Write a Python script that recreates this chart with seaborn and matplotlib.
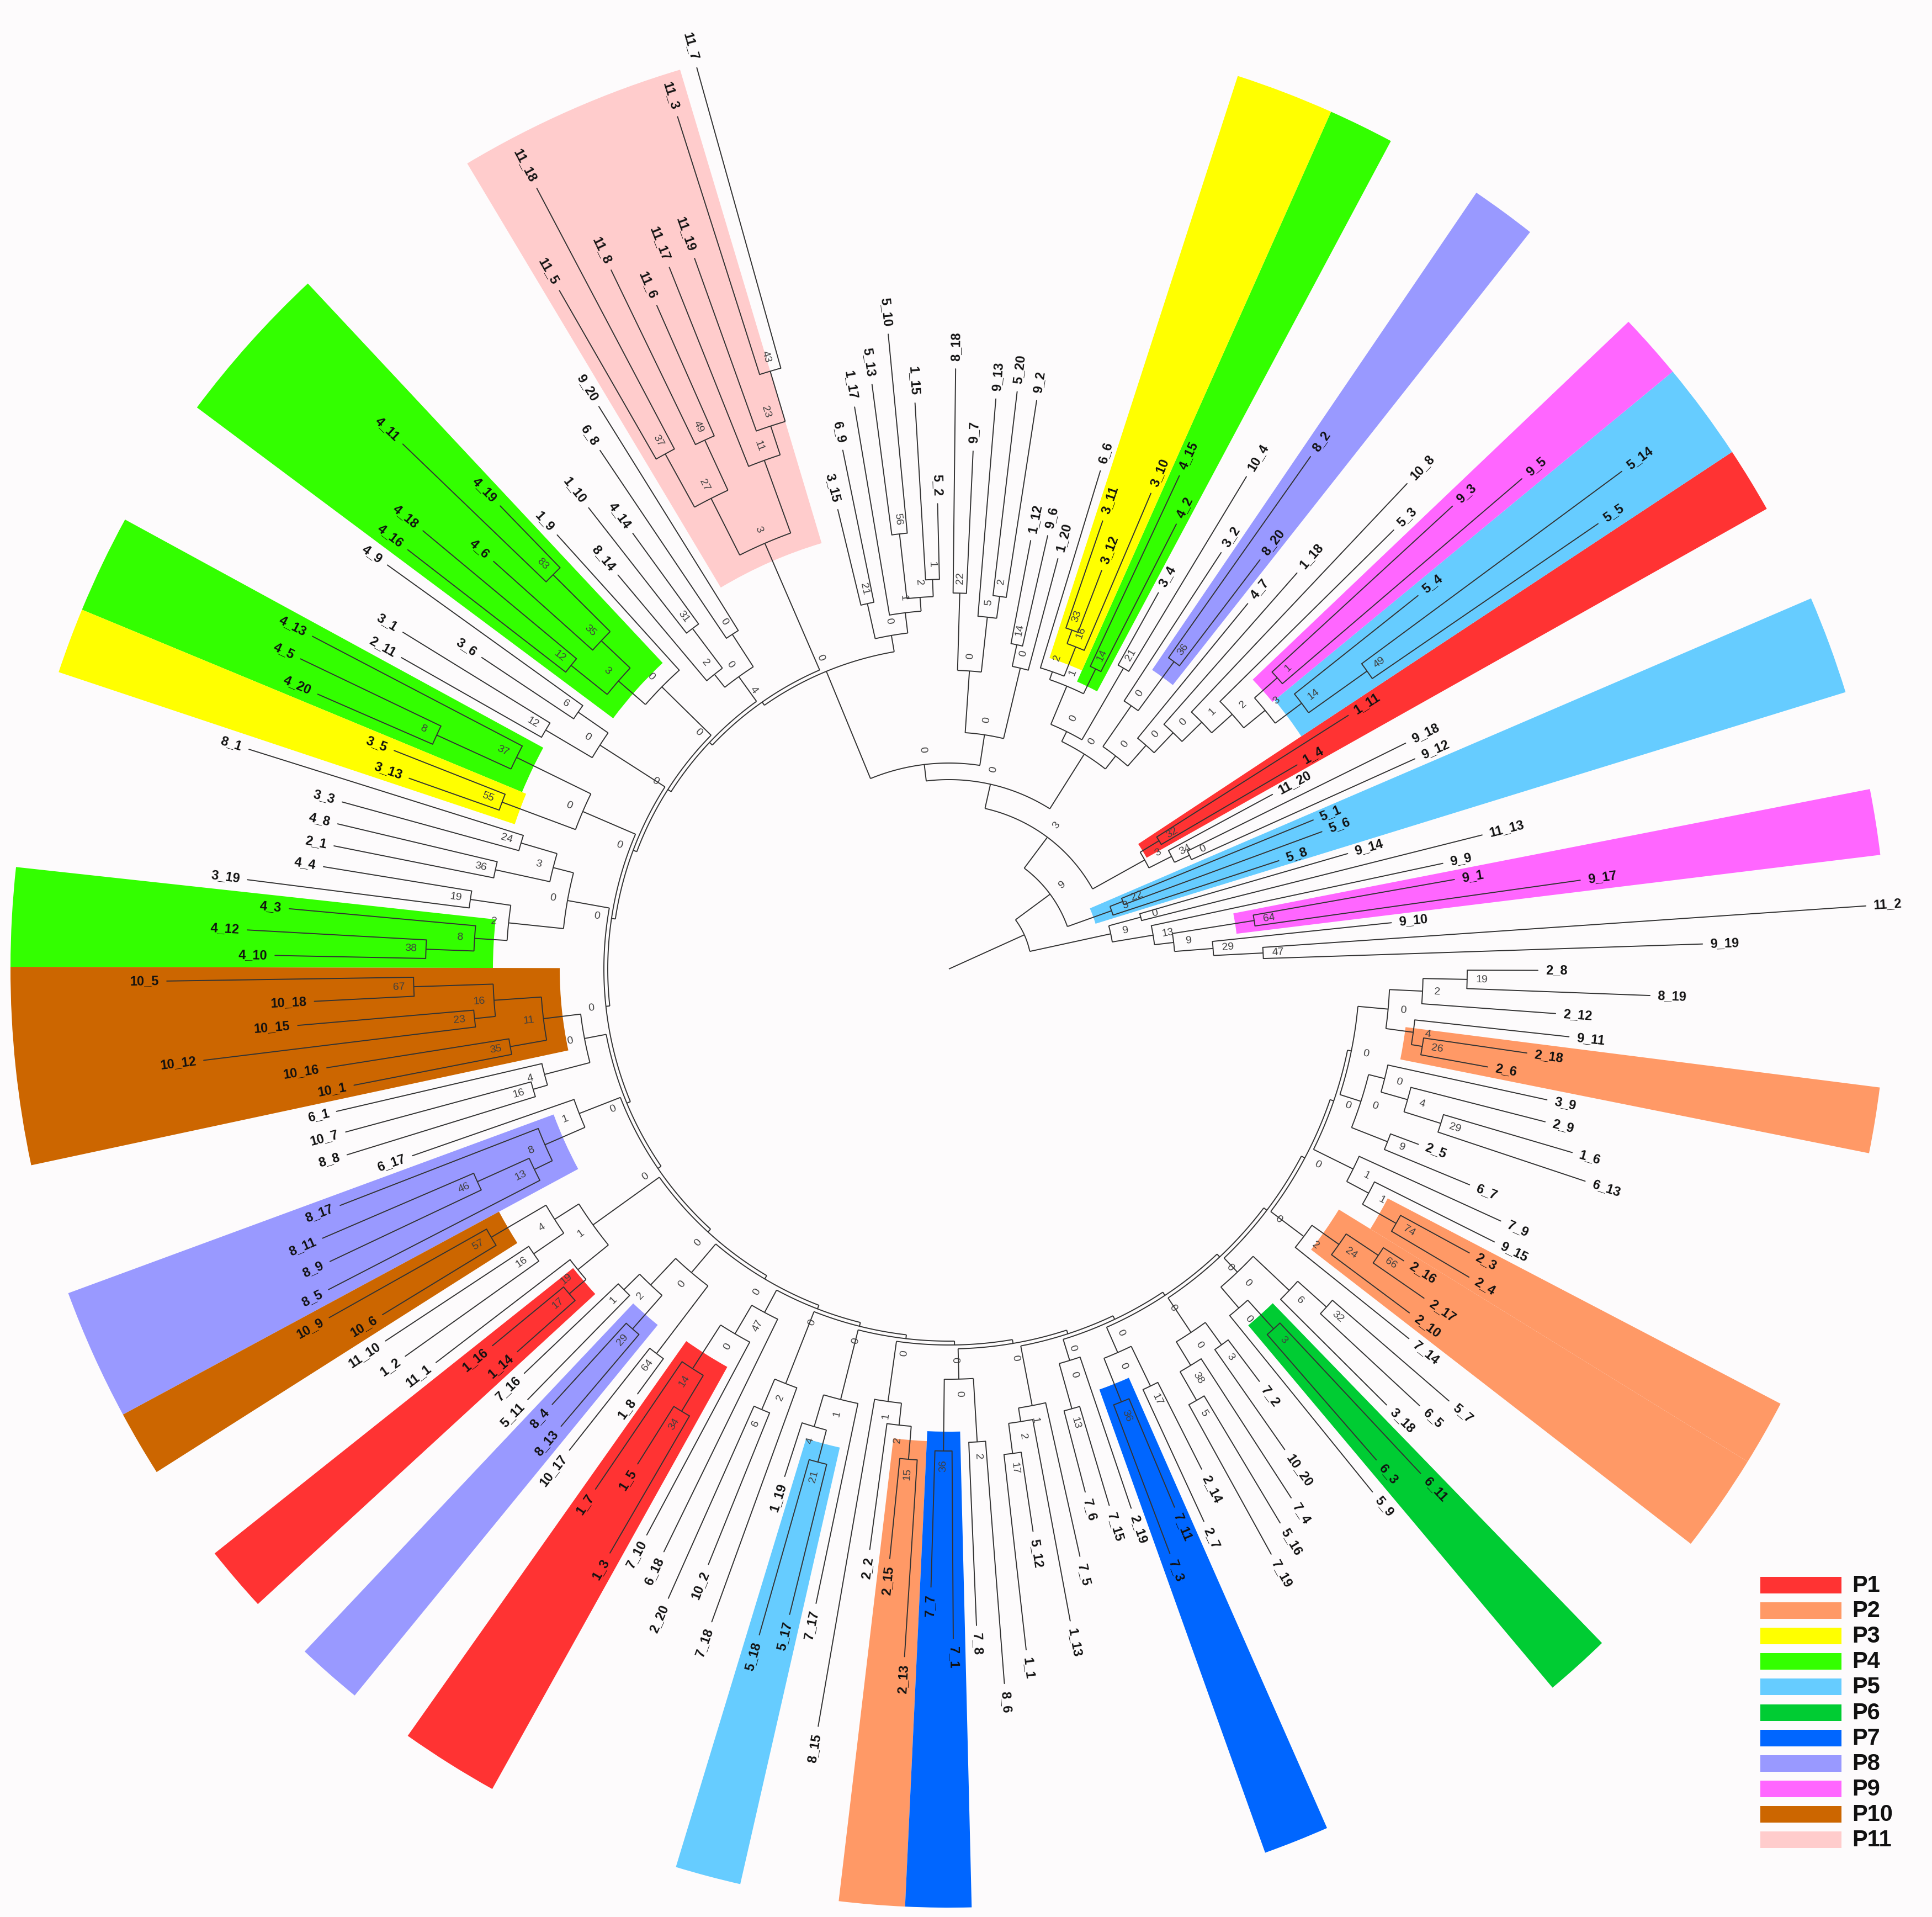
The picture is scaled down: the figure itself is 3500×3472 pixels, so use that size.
import re
import numpy as np
import pandas as pd
import matplotlib
matplotlib.use("Agg")
import matplotlib.pyplot as plt
from matplotlib.collections import LineCollection
from matplotlib.patches import Rectangle
import seaborn as sns

# ---------------------------------------------------------------- data
# leaves in counter-clockwise order, starting just above the 3 o'clock line
leaf_names = [
    "9_19", "11_2", "9_10", "9_17", "9_1", "9_9", "11_13", "9_14", "5_8", "5_6", "5_1", "9_12", "9_18", "11_20", "1_4", "1_11",
    "5_5", "5_14", "5_4", "9_5", "9_3", "5_3", "10_8", "1_18", "4_7", "8_20", "8_2", "3_2", "10_4", "3_4", "4_2", "4_15",
    "3_10", "3_12", "3_11", "6_6",
    "1_20", "9_6", "1_12", "9_2", "5_20", "9_13", "9_7", "8_18", "5_2", "1_15", "5_10", "5_13", "1_17", "6_9", "3_15",
    "11_7", "11_3", "11_19", "11_17", "11_6", "11_8", "11_18", "11_5",
    "9_20", "6_8", "4_14", "1_10", "8_14",
    "1_9", "4_19", "4_11", "4_6", "4_18", "4_16",
    "4_9", "3_6", "3_1", "2_11",
    "4_13", "4_5", "4_20", "3_5", "3_13",
    "8_1", "3_3", "4_8", "2_1", "4_4", "3_19", "4_3", "4_12", "4_10",
    "10_5", "10_18", "10_15", "10_12", "10_16", "10_1", "6_1", "10_7", "8_8",
    "6_17", "8_17", "8_11", "8_9", "8_5",
    "10_9", "10_6", "11_10", "1_2", "11_1", "1_16", "1_14",
    "7_16", "5_11", "8_4", "8_13", "10_17", "1_8",
    "1_7", "1_5", "1_3", "7_10", "6_18",
    "2_20", "10_2", "7_18",
    "1_19", "5_18", "5_17", "7_17",
    "8_15", "2_2", "2_15", "2_13",
    "7_7", "7_1", "7_8", "8_6",
    "1_1", "5_12", "1_13", "7_5",
    "7_6", "7_15", "2_19",
    "7_3", "7_11", "2_7", "2_14",
    "7_19", "5_16", "7_4", "10_20", "7_2",
    "5_9", "6_3", "6_11", "3_18", "6_5", "5_7",
    "7_14", "2_10", "2_17", "2_16",
    "2_4", "2_3", "9_15", "7_9",
    "6_7", "2_5", "6_13", "1_6", "2_9", "3_9",
    "2_6", "2_18", "9_11", "2_12", "8_19", "2_8"]

# distance of each leaf tip from the centre (same order as leaf_names)
tip_r = [
    1366, 1665, 806, 1155, 930, 915, 996, 752, 629, 720, 713, 926, 923, 666, 731, 857,
    1426, 1516, 1086, 1366, 1239, 1132, 1209, 955, 855, 931, 1136, 901, 1042, 780, 905, 986, 936, 773, 858, 943,
    769, 805, 790, 1042, 1053, 1036, 939, 1087, 843, 1027, 1155, 1068, 1032, 959, 856,
    1695, 1620, 1367, 1368, 1313, 1406, 1599, 1417,
    1200, 1132, 975, 1060, 932,
    1059, 1168, 1372, 1107, 1240, 1240,
    1253, 1017, 1162, 1141,
    1301, 1302, 1247, 1080, 1037,
    1329, 1140, 1138, 1136, 1148, 1281, 1200, 1273, 1221,
    1417, 1151, 1184, 1360, 1141, 1098, 1139, 1132, 1141,
    1029, 1183, 1235, 1240, 1265,
    1288, 1202, 1223, 1209, 1171, 1072, 1045,
    1062, 1091, 1067, 1086, 1110, 954,
    1139, 1059, 1223, 1162, 1175,
    1248, 1163, 1258,
    966, 1254, 1204, 1174,
    1392, 1061, 1073, 1248,
    1120, 1213, 1190, 1298,
    1241, 1030, 1201, 1090,
    979, 1014, 1031,
    1132, 1057, 1102, 1015,
    1210, 1169, 1141, 1062, 935,
    1219, 1179, 1251, 1119, 1163, 1197,
    1069, 1041, 1047, 979,
    1095, 1074, 1105, 1099,
    1021, 908, 1215, 1177, 1115, 1109,
    992, 1058, 1130, 1102, 1271, 1067]

pop_names = ["P1", "P2", "P3", "P4", "P5", "P6", "P7", "P8", "P9", "P10", "P11"]
pop_colors = ["#ff3333", "#ff9966", "#ffff00", "#33ff00", "#66ccff", "#00cc33",
              "#0066ff", "#9999ff", "#ff66ff", "#cc6600", "#ffcccc"]

# highlighted clades: first leaf, last leaf, population
hl_first = ["9_17", "5_8", "1_4", "5_5", "9_5", "8_20", "4_2", "3_10", "11_3", "4_19", "4_13", "3_5", "4_3",
            "10_5", "8_17", "10_9", "1_16", "8_4", "1_7", "5_18", "2_15", "7_7", "7_3", "6_3", "2_10", "2_4", "2_6"]
hl_last = ["9_1", "5_1", "1_11", "5_4", "9_3", "8_2", "4_15", "3_11", "11_5", "4_16", "4_20", "3_13", "4_10",
           "10_1", "8_5", "10_6", "1_14", "8_13", "1_3", "5_17", "2_13", "7_1", "7_11", "6_11", "2_16", "2_3", "2_18"]
hl_pop = ["P9", "P5", "P1", "P5", "P9", "P8", "P4", "P3", "P11", "P4", "P4", "P3", "P4",
          "P10", "P8", "P10", "P1", "P8", "P1", "P5", "P2", "P7", "P7", "P6", "P2", "P2", "P2"]

# tree topology (Newick pieces, node label = bootstrap, :length = branch length)
L_A = "(9_19,11_2)47:90"
L_B = f"({L_A},9_10)29:70"
L_C = f"({L_B},(9_17,9_1)64:150)9:35"
L_D = f"({L_C},9_9)13:75"
LOWER = f"({L_D},(11_13,9_14)0:60)9:150"
P5a = "(5_8,(5_6,5_1)22:25)3:85"
X = "(((9_12,9_18)0:30,11_20)34:46,(1_4,1_11)32:40)3:108"
CY = "((5_5,5_14)49:130,5_4)14:60"
PK = "(9_5,9_3)1:55"
L8 = "((8_20,8_2)36:110,3_2)0:90"
Y3 = "((4_2,4_15)14:50,((3_10,(3_12,3_11)33:26)16:57,6_6)2:15)1:75"
T1 = "(1_20,(9_6,1_12)14:40)0:131"
T2 = "(((9_2,5_20)2:40,9_13)5:100,(9_7,8_18)22:140)0:112"

backbone_clades = [
    "((((5_2,1_15)1:31,(5_10,5_13)56:118)2:25,1_17)1:37,(6_9,3_15)21:65)0:30",
    "((((11_7,11_3)43:95,11_19)23:55,11_17)11:140,((11_6,11_8)49:100,(11_18,11_5)37:110)27:115)3:250",
    "((9_20,6_8)0:70,((4_14,1_10)31:90,8_14)2:30)0:55",
    "(1_9,(((4_19,4_11)83:146,4_6)35:72,(4_18,4_16)12:84)3:65)0:125",
    "((4_9,3_6)6:66,(3_1,2_11)12:98)0:140",
    "((4_13,(4_5,4_20)8:148)37:150,(3_5,3_13)55:142)0:104",
    "(((8_1,3_3)24:68,(4_8,2_1)36:101)3:38,((4_4,3_19)19:74,(4_3,(4_12,4_10)38:87)8:59)2:100)0:77",
    "((((10_5,10_18)67:144,(10_15,10_12)23:38)16:86,(10_16,10_1)35:67)11:68,(6_1,(10_7,8_8)16:27)4:85)0:40",
    "(6_17,(8_17,((8_11,8_9)46:103,8_5)13:36)8:79)1:80",
    "(((10_9,10_6)57:115,(11_10,1_2)16:66)4:52,(11_1,(1_16,1_14)17:40)19:71)1:148",
    "(((7_16,5_11)1:40,(8_4,8_13)29:81)2:66,(10_17,1_8)64:154)0:68",
    "(((1_7,(1_5,1_3)34:76)14:94,7_10)0:60,6_18)47:46",
    "((2_20,10_2)6:60,7_18)2:140",
    "((1_19,(5_18,5_17)21:60)4:60,7_17)1:130",
    "(8_15,(2_2,(2_15,2_13)15:60)2:40)1:110",
    "((7_7,7_1)36:130,(7_8,8_6)2:115)0:55",
    "(((1_1,5_12)17:55,1_13)2:25,7_5)1:110",
    "((7_6,7_15)13:85,2_19)0:40",
    "((7_3,7_11)36:85,(2_7,2_14)17:80)0:50",
    "(((7_19,5_16)5:60,7_4)38:50,(10_20,7_2)3:50)0:75",
    "((5_9,(6_3,6_11)3:70)0:50,(3_18,(6_5,5_7)32:70)6:90)0:35",
    "(7_14,(2_10,(2_17,2_16)66:70)24:60)2:75",
    "(((2_4,2_3)74:70,9_15)1:45,7_9)1:80",
    "((6_7,2_5)9:70,(((6_13,1_6)29:70,2_9)4:50,3_9)0:30)0:40",
    "(((2_6,2_18)26:20,9_11)4:50,(2_12,(8_19,2_8)19:80)2:60)0:55",
]
backbone_support = [0, 4, 0, 0, 0, 0, 0, 0, 0, 0, 0, 0, 0, 0, 0, 0, 0, 0, 0, 0, 0, 0, 0, 0]
BACKBONE_STEP = 7
Q2_LEN = 210

# ---------------------------------------------------------------- build tree string
cat = f"({backbone_clades[-2]},{backbone_clades[-1]}){backbone_support[-1]}:{BACKBONE_STEP}"
for i in range(len(backbone_clades) - 3, -1, -1):
    ln = BACKBONE_STEP if i > 0 else Q2_LEN
    cat = f"({backbone_clades[i]},{cat}){backbone_support[i]}:{ln}"
Q2 = cat
A1 = f"({CY},{PK})3:50"
A2 = f"({A1},5_3)2:50"
A3 = f"({A2},10_8)1:50"
A4 = f"({A3},1_18)0:50"
A5 = f"({A4},4_7)0:50"
A6 = f"({A5},{L8})0:30"
A7 = f"((10_4,3_4)21:150,{Y3})0:20"
TR = f"({A6},{A7})0:117"
Q1 = f"({T1},{T2})0:56"
BIG = f"({Q1},{Q2})0:30"
Y = f"({TR},{BIG})0:45"
N3 = f"({X},{Y})3:70"
UPPER = f"({P5a},{N3})9:78"
TREE = f"({LOWER},{UPPER})R:150"

DEFAULT_LEN = 45.0


def parse_newick(s):
    pos = 0

    def node():
        nonlocal pos
        if s[pos] == "(":
            pos += 1
            kids = [node()]
            while s[pos] == ",":
                pos += 1
                kids.append(node())
            pos += 1
            m = re.match(r"([^:,();]*)(?::([0-9.]+))?", s[pos:])
            pos += m.end()
            ln = float(m.group(2)) if m.group(2) else DEFAULT_LEN
            return {"kids": kids, "sup": m.group(1), "len": ln}
        m = re.match(r"([^:,();]+)", s[pos:])
        pos += m.end()
        return {"name": m.group(1)}

    return node()


tree = parse_newick(TREE)

N = len(leaf_names)
STEP = 2 * np.pi / N
THETA0 = 1.9
idx_of = {n: i for i, n in enumerate(leaf_names)}
tip_of = dict(zip(leaf_names, tip_r))

order = []


def layout(nd, parent_r):
    if "name" in nd:
        i = idx_of[nd["name"]]
        order.append(nd["name"])
        nd["lo"] = nd["hi"] = i
        nd["theta"] = i * STEP
        nd["r"] = float(tip_of[nd["name"]])
        nd["pr"] = parent_r
        return
    nd["r"] = parent_r + nd["len"]
    for k in nd["kids"]:
        layout(k, nd["r"])
    nd["theta"] = 0.5 * (nd["kids"][0]["theta"] + nd["kids"][-1]["theta"])
    nd["lo"] = min(k["lo"] for k in nd["kids"])
    nd["hi"] = max(k["hi"] for k in nd["kids"])


layout(tree, 0.0)
if order != leaf_names:
    print("order mismatch", [(a, b) for a, b in zip(order, leaf_names) if a != b][:5])

internal = []


def walk(nd):
    if "kids" in nd:
        internal.append(nd)
        for k in nd["kids"]:
            walk(k)


walk(tree)

# ---------------------------------------------------------------- figure
sns.set_theme(style="white")
plt.rcParams["font.family"] = ["Liberation Sans", "DejaVu Sans"]
BG = "#fdfbfc"
W, H = 3500, 3472
fig = plt.figure(figsize=(W / 100, H / 100), dpi=100, facecolor=BG)
CX, CY_ = 1719, 1755
RMAX = 1800
ax = fig.add_axes([(CX - RMAX) / W, (H - CY_ - RMAX) / H, 2 * RMAX / W, 2 * RMAX / H], projection="polar")
ax.set_theta_offset(np.deg2rad(THETA0))
ax.set_facecolor(BG)

R_OUT = 1700
col_of = dict(zip(pop_names, pop_colors))


def mrca(a, b):
    best = None
    for nd in internal:
        if nd["lo"] <= a and nd["hi"] >= b:
            if best is None or (nd["hi"] - nd["lo"]) < (best["hi"] - best["lo"]):
                best = nd
    return best


for f, l, p in zip(hl_first, hl_last, hl_pop):
    a, b = idx_of[f], idx_of[l]
    nd = mrca(a, b)
    inner = nd["r"] - 35
    t0 = (a - 0.5) * STEP
    t1 = (b + 0.5) * STEP
    ax.bar(0.5 * (t0 + t1), R_OUT - inner, width=t1 - t0, bottom=inner,
           color=col_of[p], edgecolor="none", align="center", zorder=1)

# internal branches
segs = []
for nd in internal:
    t0, t1 = nd["kids"][0]["theta"], nd["kids"][-1]["theta"]
    n = max(2, int(abs(t1 - t0) / np.deg2rad(0.4)) + 2)
    ts = np.linspace(t0, t1, n)
    segs.append(np.column_stack([ts, np.full(n, nd["r"])]))
    for k in nd["kids"]:
        if "kids" in k:
            segs.append(np.array([[k["theta"], nd["r"]], [k["theta"], k["r"]]]))
segs.append(np.array([[tree["theta"], 0.0], [tree["theta"], tree["r"]]]))
lc = LineCollection(segs, colors="#333333", linewidths=1.4, transform=ax.transData, zorder=3)
ax.add_collection(lc)

# terminal branches through seaborn
leaves = []


def collect_leaves(nd):
    if "name" in nd:
        leaves.append(nd)
    else:
        for k in nd["kids"]:
            collect_leaves(k)


collect_leaves(tree)
rows = []
for lf in leaves:
    rows.append({"leaf": lf["name"], "theta": lf["theta"], "r": lf["pr"], "o": 0})
    rows.append({"leaf": lf["name"], "theta": lf["theta"], "r": lf["r"], "o": 1})
term = pd.DataFrame(rows)
sns.lineplot(data=term, x="theta", y="r", units="leaf", estimator=None, sort=False,
             color="#333333", linewidth=1.4, ax=ax, legend=False, zorder=3)


def radial_rot(theta):
    deg = (np.rad2deg(theta) + THETA0) % 360
    if 90 < deg < 270:
        return deg - 180, "right"
    return deg, "left"


for lf in leaves:
    rot, ha = radial_rot(lf["theta"])
    ax.text(lf["theta"], lf["r"] + 14, lf["name"], rotation=rot, rotation_mode="anchor",
            ha=ha, va="center", fontsize=17, fontweight="bold", color="#111111", zorder=5)

for nd in internal:
    if nd is tree:
        continue
    rot, _ = radial_rot(nd["theta"])
    ax.text(nd["theta"], nd["r"] + 27, nd["sup"], rotation=rot, rotation_mode="anchor",
            ha="center", va="center", fontsize=14, color="#404040", zorder=5)

ax.set_xlim(0, 2 * np.pi)
ax.set_ylim(0, RMAX)
ax.axis("off")

# legend
lax = fig.add_axes([0, 0, 1, 1])
lax.set_xlim(0, W)
lax.set_ylim(H, 0)
lax.axis("off")
for i, (p, c) in enumerate(zip(pop_names, pop_colors)):
    yc = 2871 + i * 46.1
    lax.add_patch(Rectangle((3189, yc - 15), 147, 30, facecolor=c, edgecolor="none"))
    lax.text(3355, yc + 1, p, fontsize=30, fontweight="bold", va="center", ha="left", color="#111111")

fig.savefig("out.png", dpi=100, facecolor=BG)
